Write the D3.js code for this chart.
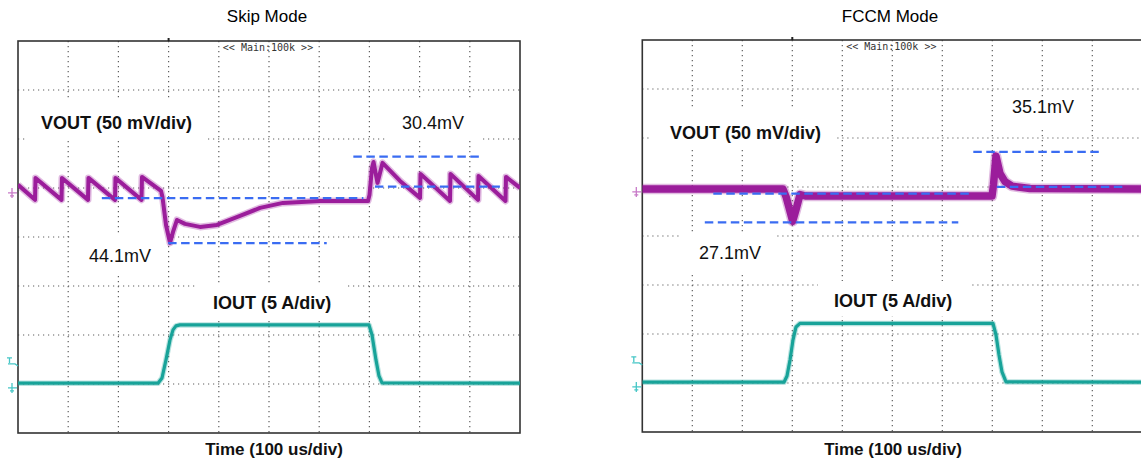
<!DOCTYPE html>
<html>
<head>
<meta charset="utf-8">
<script src="https://cdn.jsdelivr.net/npm/d3@7"></script>
<style>
  body { margin: 0; background: #fff; }
  svg { display: block; }
  text { font-family: "Liberation Sans", Arial, sans-serif; }
</style>
</head>
<body>
<svg id="chart" width="1141" height="464"></svg>
<script>
// ---------------- data ----------------
const panelTitles = ["Skip Mode", "FCCM Mode"];
const timeLabel = "Time (100 us/div)";
const voutLabel = "VOUT (50 mV/div)";
const ioutLabel = "IOUT (5 A/div)";
const scopeHeader = "<< Main:100k >>";

// grid: time in us (100 us/div), vertical in divisions
const timeGrid = [100, 200, 300, 400, 500, 600, 700, 800, 900];
const divGrid = [-3, -2, -1, 0, 1, 2, 3];

// Skip mode VOUT (mV, relative to channel marker)
const skipVoutT = [0, 33.9, 34.9, 86.7, 87.6, 139.4, 140.4, 193.2, 194.2, 246.0, 247.0, 284.9,
  287.8, 294.8, 302.8, 308.8, 316.7, 332.7, 362.5, 396.4, 442.2, 482.1, 527.9, 601.6, 697.2,
  700.2, 705.2, 708.2, 716.1, 726.1, 761.0, 800.8, 801.8, 860.5, 861.5, 916.3, 917.3, 971.1, 972.1, 1000];
const skipVoutMv = [8.2, -7.1, 15.3, -7.1, 15.3, -7.1, 15.3, -7.1, 15.3, -7.1, 16.3, 2.0,
  -4.1, -32.7, -51.0, -39.8, -27.6, -31.6, -34.7, -32.7, -23.5, -15.3, -10.2, -8.2, -8.2,
  -2.0, 25.5, 31.6, 10.2, 30.6, 12.2, -5.1, 19.4, -8.2, 19.4, -7.1, 17.3, -8.2, 16.3, 5.1];

// Skip mode IOUT (A)
const skipIoutT = [0, 278.9, 286.9, 294.8, 302.8, 308.8, 314.7, 322.7, 699.2, 705.2, 713.1, 719.1, 725.1, 1000];
const skipIoutA = [0.48, 0.48, 1.02, 2.86, 4.9, 5.92, 6.33, 6.43, 6.43, 5.41, 2.86, 1.22, 0.51, 0.48];

// FCCM VOUT (mV)
const fccmVoutT = [0, 281.4, 287.4, 293.4, 300.8, 307.4, 315.4, 327.4, 415.4, 699.4,
  702.4, 707.4, 715.4, 725.4, 739.4, 775.4, 1000];
const fccmVoutMv = [2.9, 2.9, -4.8, -16.0, -30.0, -18.1, -2.8, -4.3, -4.3, -4.3,
  7.4, 36.5, 18.7, 10.5, 5.9, 3.4, 2.9];

// FCCM IOUT (A)
const fccmIoutT = [0, 283.4, 289.4, 295.4, 301.4, 307.4, 315.4, 701.4, 707.4, 713.4, 719.4, 727.4, 1000];
const fccmIoutA = [0.48, 0.48, 1.12, 2.75, 4.8, 6.12, 6.48, 6.48, 5.3, 3.26, 1.53, 0.51, 0.48];

// measurement cursors (dashed): start us, end us, level mV
const skipCursorT0 = [668, 711, 167, 299];
const skipCursorT1 = [920, 960, 688, 615];
const skipCursorMv = [37.0, 6.4, -5.4, -51.3];
const fccmCursorT0 = [662, 709, 142, 125];
const fccmCursorT1 = [915, 962, 659, 632];
const fccmCursorMv = [40.8, 5.1, -1.7, -31.0];

const skipDeltas = ["30.4mV", "44.1mV"];
const fccmDeltas = ["35.1mV", "27.1mV"];

// ---------------- layout ----------------
const voutPos = 0.9;    // channel positions in divisions
const ioutPos = -3.08;
const trigA = 2.65;
const purple = "#9b1d9b";
const teal = "#18a399";
const cursorBlue = "#3a6cf2";

const panels = [
  { x0: 18, y0: 41, w: 502, h: 392, titleX: 267, timeX: 274,
    vt: skipVoutT, vv: skipVoutMv, it: skipIoutT, iv: skipIoutA,
    ct0: skipCursorT0, ct1: skipCursorT1, cmv: skipCursorMv, voutBand: 4,
    labels: [
      { text: voutLabel, bold: true, x: 41, y: 129, box: [25, 100, 183, 41] },
      { text: skipDeltas[0], x: 402, y: 129, box: [385, 100, 95, 41] },
      { text: skipDeltas[1], x: 89, y: 262, box: [72, 236, 96, 38] },
      { text: ioutLabel, bold: true, x: 213, y: 309, box: [195, 283, 153, 35] }
    ] },
  { x0: 642.3, y0: 40, w: 500, h: 392, titleX: 890, timeX: 893,
    vt: fccmVoutT, vv: fccmVoutMv, it: fccmIoutT, iv: fccmIoutA,
    ct0: fccmCursorT0, ct1: fccmCursorT1, cmv: fccmCursorMv, voutBand: 7.5,
    labels: [
      { text: voutLabel, bold: true, x: 670, y: 139, box: [650, 110, 187, 40] },
      { text: fccmDeltas[0], x: 1012, y: 113, box: [1000, 97, 85, 30] },
      { text: fccmDeltas[1], x: 699, y: 259, box: [682, 234, 95, 38] },
      { text: ioutLabel, bold: true, x: 834, y: 307, box: [818, 281, 154, 35] }
    ] }
];

const svg = d3.select("#chart");

panels.forEach((p, i) => {
  const g = svg.append("g");
  const x = d3.scaleLinear().domain([0, 1000]).range([p.x0, p.x0 + p.w]);
  const yDiv = d3.scaleLinear().domain([-4, 4]).range([p.y0 + p.h, p.y0]);
  const yV = mv => yDiv(voutPos + mv / 50);
  const yI = a => yDiv(ioutPos + a / 5);

  const clipId = "clip" + i;
  g.append("clipPath").attr("id", clipId)
    .append("rect").attr("x", p.x0).attr("y", p.y0).attr("width", p.w).attr("height", p.h);

  // title
  g.append("text")
    .attr("x", p.titleX).attr("y", 22)
    .attr("text-anchor", "middle")
    .style("font-size", "17px")
    .text(panelTitles[i]);

  // dotted grid
  g.append("g").selectAll("line")
    .data(timeGrid).join("line")
    .attr("x1", d => x(d)).attr("x2", d => x(d))
    .attr("y1", p.y0).attr("y2", p.y0 + p.h)
    .attr("stroke", "#5e5e5e").attr("stroke-width", 1.2)
    .attr("stroke-dasharray", "1.2,3.8");
  g.append("g").selectAll("line")
    .data(divGrid).join("line")
    .attr("x1", p.x0).attr("x2", p.x0 + p.w)
    .attr("y1", d => yDiv(d)).attr("y2", d => yDiv(d))
    .attr("stroke", "#5e5e5e").attr("stroke-width", 1.2)
    .attr("stroke-dasharray", "1.2,3.8");

  // white boxes behind annotation text
  g.append("g").selectAll("rect")
    .data(p.labels).join("rect")
    .attr("x", d => d.box[0]).attr("y", d => d.box[1])
    .attr("width", d => d.box[2]).attr("height", d => d.box[3])
    .attr("fill", "#fff");

  // frame
  g.append("rect")
    .attr("x", p.x0).attr("y", p.y0).attr("width", p.w).attr("height", p.h)
    .attr("fill", "none").attr("stroke", "#333").attr("stroke-width", 1.6);

  // scope header text
  g.append("text")
    .attr("x", x(500) - 1).attr("y", p.y0 + 10)
    .attr("text-anchor", "middle")
    .style("font-family", "'DejaVu Sans Mono', monospace")
    .style("font-size", "10px")
    .attr("fill", "#333")
    .text(scopeHeader);

  // trigger position mark on top
  g.append("path")
    .attr("d", `M${x(300)},${p.y0 - 3}V${p.y0}`)
    .attr("stroke", "#222").attr("stroke-width", 2);

  const traces = g.append("g").attr("clip-path", `url(#${clipId})`);

  // IOUT
  const iLine = d3.line().x(d => x(d[0])).y(d => yI(d[1]));
  const iData = p.it.map((t, k) => [t, p.iv[k]]);
  traces.append("path").attr("d", iLine(iData))
    .attr("fill", "none").attr("stroke", teal).attr("stroke-opacity", 0.3)
    .attr("stroke-width", 5.5).attr("stroke-linejoin", "round");
  traces.append("path").attr("d", iLine(iData))
    .attr("fill", "none").attr("stroke", teal)
    .attr("stroke-width", 3.2).attr("stroke-linejoin", "round");

  // VOUT
  const vLine = d3.line().x(d => x(d[0])).y(d => yV(d[1]));
  const vData = p.vt.map((t, k) => [t, p.vv[k]]);
  traces.append("path").attr("d", vLine(vData))
    .attr("fill", "none").attr("stroke", purple).attr("stroke-opacity", 0.3)
    .attr("stroke-width", p.voutBand + 3).attr("stroke-linejoin", "round");
  traces.append("path").attr("d", vLine(vData))
    .attr("fill", "none").attr("stroke", purple)
    .attr("stroke-width", p.voutBand).attr("stroke-linejoin", "round");

  // measurement cursors
  traces.append("g").selectAll("line")
    .data(p.cmv).join("line")
    .attr("x1", (d, k) => x(p.ct0[k])).attr("x2", (d, k) => x(p.ct1[k]))
    .attr("y1", d => yV(d)).attr("y2", d => yV(d))
    .attr("stroke", cursorBlue).attr("stroke-width", 2.3)
    .attr("stroke-dasharray", "8.5,4.5");

  // annotation text
  g.append("g").selectAll("text")
    .data(p.labels).join("text")
    .attr("x", d => d.x).attr("y", d => d.y)
    .style("font-size", "18px")
    .style("font-weight", d => d.bold ? "bold" : "normal")
    .attr("fill", "#111")
    .text(d => d.text);

  // channel markers at the left edge
  const mx = p.x0;
  const vy = yV(0), gy = yI(0), ty = yI(trigA);
  g.append("path")
    .attr("d", `M${mx - 10},${vy}H${mx - 1}M${mx - 6},${vy - 5}V${vy + 5}M${mx - 8},${vy + 3}H${mx - 4}`)
    .attr("fill", "none").attr("stroke", "#c87ac8").attr("stroke-width", 1.3);
  g.append("path")
    .attr("d", `M${mx - 10},${gy}H${mx - 1}M${mx - 6},${gy - 5}V${gy + 5}M${mx - 8},${gy + 3}H${mx - 4}`)
    .attr("fill", "none").attr("stroke", "#45c6c6").attr("stroke-width", 1.3);
  g.append("path")
    .attr("d", `M${mx - 11},${ty - 4}H${mx - 6}M${mx - 8.5},${ty - 4}V${ty + 1}M${mx - 10},${ty + 2}H${mx - 3}L${mx},${ty + 4}`)
    .attr("fill", "none").attr("stroke", "#45c6c6").attr("stroke-width", 1.3);

  // time label
  g.append("text")
    .attr("x", p.timeX).attr("y", 455)
    .attr("text-anchor", "middle")
    .style("font-size", "17px").style("font-weight", "bold")
    .attr("fill", "#111")
    .text(timeLabel);
});
</script>
</body>
</html>
